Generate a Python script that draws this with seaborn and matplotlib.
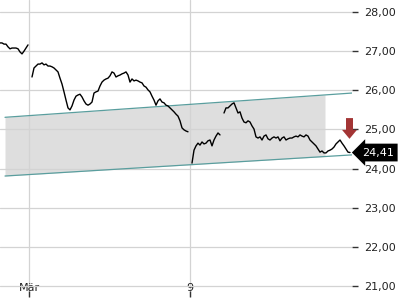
import numpy as np
import pandas as pd
import matplotlib
matplotlib.use("Agg")
import matplotlib.pyplot as plt
from matplotlib.patches import FancyArrow
import matplotlib.transforms as mtransforms
import seaborn as sns

# ---- data (one sample per time step, NaN = trading gap) ----
nan = np.nan
prices = [
    27.21, 27.21, 27.18, 27.18, 27.11, 27.06, 27.08, 27.08, 27.08, 27.06, 26.98, 26.93, 27.00, 27.08, 27.16,
    nan,
    26.34, 26.57, 26.62, 26.67, 26.67, 26.70, 26.65, 26.67, 26.62, 26.62, 26.60, 26.57, 26.52, 26.47, 26.31,
    26.16, 25.96, 25.75, 25.55, 25.50, 25.60, 25.75, 25.85, 25.88, 25.90, 25.83, 25.73, 25.65, 25.62, 25.65,
    25.70, 25.93, 25.96, 25.98, 26.11, 26.21, 26.26, 26.29, 26.31, 26.37, 26.47, 26.44, 26.34, 26.37, 26.39,
    26.42, 26.44, 26.47, 26.39, 26.21, 26.29, 26.24, 26.26, 26.24, 26.21, 26.19, 26.11, 26.08, 26.01, 25.96,
    25.85, 25.75, 25.62, 25.73, 25.78, 25.70, 25.68, 25.62, 25.60, 25.55, 25.50, 25.45, 25.39, 25.34, 25.22,
    25.04, 24.99, 24.96, 24.94,
    nan,
    24.14, 24.47, 24.58, 24.65, 24.60, 24.68, 24.63, 24.65, 24.71, 24.73, 24.58, 24.73, 24.83, 24.91, 24.86,
    nan,
    25.42, 25.55, 25.55, 25.60, 25.65, 25.68, 25.55, 25.42, 25.45, 25.29, 25.19, 25.17, 25.22, 25.19, 25.09,
    25.01, 24.81, 24.78, 24.81, 24.73, 24.83, 24.86, 24.76, 24.73, 24.78, 24.81, 24.78, 24.81, 24.71, 24.78,
    24.81, 24.73, 24.76, 24.78, 24.78, 24.81, 24.83, 24.81, 24.86, 24.83, 24.81, 24.86, 24.83, 24.73, 24.68,
    24.63, 24.58, 24.50, 24.42, 24.45, 24.40, 24.40, 24.45, 24.47, 24.50, 24.55, 24.63, 24.68, 24.73, 24.65,
    24.58, 24.50, 24.42, 24.41,
]
x_tick_pos = [14.5, 95]
x_tick_labels = ["Mär", "9"]
y_ticks = [21, 22, 23, 24, 25, 26, 27, 28]

# trend channel (start / end time, upper & lower values)
chan_t = [2.5, 176.0]
chan_upper = [25.31, 25.93]
chan_lower = [23.81, 24.35]
fill_end_t = 162.5

last_price = 24.41

# ---- build frame ----
p = np.array(prices, dtype=float)
t = np.arange(len(p))
seg = np.cumsum(np.isnan(p))
df = pd.DataFrame({"t": t, "price": p, "seg": seg}).dropna()

sns.set_style("white")
plt.rcParams["font.family"] = ["DejaVu Sans"]

fig = plt.figure(figsize=(4, 3), dpi=100)
ax = fig.add_axes([0, 0.01, 352 / 400, 0.99])

# channel fill
ft = np.array([chan_t[0], fill_end_t])
fu = np.interp(ft, chan_t, chan_upper)
fl = np.interp(ft, chan_t, chan_lower)
ax.fill_between(ft, fl, fu, color="#dedede", lw=0, zorder=0.2)
ax.plot(chan_t, chan_upper, color="#5a9e9e", lw=0.9, zorder=1.5)
ax.plot(chan_t, chan_lower, color="#5a9e9e", lw=0.9, zorder=1.5)

# price line
sns.lineplot(data=df, x="t", y="price", units="seg", estimator=None,
             color="black", lw=1.0, ax=ax, zorder=3)

ax.set_xlim(0, 176)
ax.set_ylim(20.719, 28.307)
ax.set_xlabel("")
ax.set_ylabel("")

ax.set_axisbelow(True)
ax.grid(True, color="#d3d3d3", lw=0.9)
for s in ax.spines.values():
    s.set_visible(False)

ax.yaxis.tick_right()
ax.set_yticks(y_ticks)
ax.set_yticklabels([f"{v:.2f}".replace(".", ",") for v in y_ticks])
ax.tick_params(axis="y", direction="out", length=4, width=1, color="#333333",
               pad=4.5, labelsize=8, labelcolor="#222222", right=True, left=False)
ax.set_xticks(x_tick_pos)
ax.set_xticklabels(x_tick_labels)
ax.tick_params(axis="x", direction="in", length=4, width=1, color="#333333",
               pad=-10, labelsize=8, labelcolor="#222222", bottom=True)

# red arrow above last point
last_t = t[-1] - 0.25
arr = FancyArrow(last_t, last_price + 0.88, 0, -0.53, width=3.5, head_width=7.5,
                 head_length=0.23, length_includes_head=True, color="#a33535",
                 lw=0, clip_on=False, zorder=4)
ax.add_patch(arr)

# last price tag
trans = mtransforms.blended_transform_factory(ax.transAxes, ax.transData)
ax.text(1.028, last_price, f"{last_price:.2f}".replace(".", ","), transform=trans,
        color="white", fontsize=8, va="center", ha="left", zorder=5,
        bbox=dict(boxstyle="larrow,pad=0.35", fc="black", ec="black", lw=0))

fig.savefig("out.png", dpi=100)
